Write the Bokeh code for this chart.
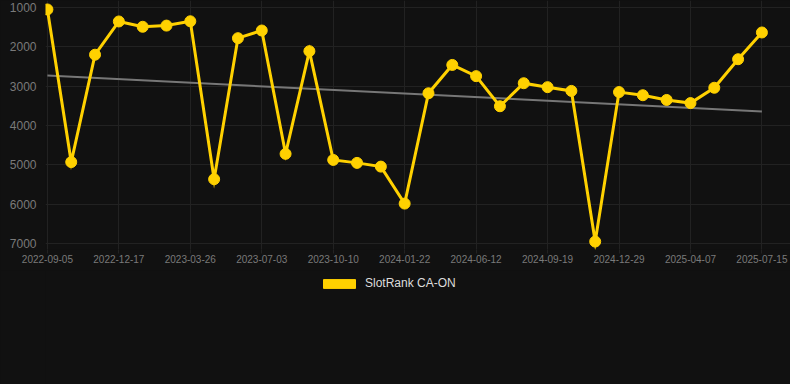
from bokeh.plotting import figure
from bokeh.layouts import column
from bokeh.models import Range1d, FixedTicker, Legend, LegendItem, ColumnDataSource
from bokeh.embed import file_html
from bokeh.resources import INLINE

# ---- data ----
dates = ["2022-09-05", "2022-12-17", "2023-03-26", "2023-07-03", "2023-10-10",
         "2024-01-22", "2024-06-12", "2024-09-19", "2024-12-29", "2025-04-07", "2025-07-15"]
ranks = [1050, 4930, 2200, 1355, 1490, 1460, 1350, 5365, 1780, 1585,
         4720, 2110, 4875, 4950, 5045, 5985, 3180, 2460, 2745, 3510,
         2925, 3025, 3120, 6950, 3150, 3230, 3350, 3430, 3040, 2315, 1635]
trend_values = [2730, 3645]
y_ticks = [1000, 2000, 3000, 4000, 5000, 6000, 7000]
series_name = "SlotRank CA-ON"

idx = list(range(len(ranks)))
label_positions = list(range(0, len(ranks), 3))
trend_x = [idx[0], idx[-1]]

BG = "#111111"
GRID = "#222222"
GOLD = "#FFD100"

p = figure(width=790, height=270, output_backend="svg", toolbar_location=None,
           x_range=Range1d(-0.08, 31.2), y_range=Range1d(7152, 822),
           background_fill_color=BG, border_fill_color=BG,
           min_border_left=45, min_border_right=0, min_border_top=0, min_border_bottom=21)
p.outline_line_color = None

# axes
p.xaxis.ticker = FixedTicker(ticks=label_positions)
p.xaxis.major_label_overrides = {pos: d for pos, d in zip(label_positions, dates)}
p.yaxis.ticker = FixedTicker(ticks=y_ticks)
p.xaxis.axis_line_color = None
p.yaxis.axis_line_color = None
p.xaxis.minor_tick_line_color = None
p.yaxis.minor_tick_line_color = None
p.xaxis.major_label_text_font = "Liberation Sans"
p.yaxis.major_label_text_font = "Liberation Sans"
p.xaxis.major_label_text_color = "#7a7a7a"
p.yaxis.major_label_text_color = "#7a7a7a"
p.yaxis.major_tick_line_color = None
p.yaxis.major_tick_out = 0
p.yaxis.major_tick_in = 0
p.yaxis.major_label_text_font_size = "12px"
p.yaxis.major_label_standoff = 9
p.xaxis.major_tick_line_color = GRID
p.xaxis.major_tick_out = 4
p.xaxis.major_tick_in = 0
p.xaxis.major_label_standoff = 1
p.xaxis.major_label_text_font_size = "10px"

p.xgrid.ticker = FixedTicker(ticks=label_positions)
p.xgrid.grid_line_color = GRID
p.ygrid.grid_line_color = GRID

# trend
p.line(trend_x, trend_values, line_color="#777777", line_width=2)

# series
src = ColumnDataSource(dict(x=idx, y=ranks))
p.line("x", "y", source=src, line_color=GOLD, line_width=3, line_join="miter")
p.scatter("x", "y", source=src, size=11, fill_color=GOLD, line_color=GOLD)

# legend strip below the chart (swatch renderer kept outside the visible range)
p2 = figure(width=790, height=114, output_backend="svg", toolbar_location=None,
            x_range=Range1d(0, 1), y_range=Range1d(0, 1),
            background_fill_color=BG, border_fill_color=BG,
            min_border_left=0, min_border_right=0, min_border_top=0, min_border_bottom=0)
p2.outline_line_color = None
p2.axis.visible = False
p2.grid.visible = False
swatch = p2.quad(left=[5], right=[6], top=[6], bottom=[5], fill_color=GOLD, line_color=GOLD)
legend = Legend(items=[LegendItem(label=series_name, renderers=[swatch])],
                location=(274, 94), orientation="horizontal",
                glyph_width=40, glyph_height=11, label_standoff=6,
                label_height=11,
                label_text_font="Liberation Sans", label_text_font_size="12px",
                label_text_color="#dddddd", background_fill_alpha=0,
                border_line_color=None, margin=0, padding=0)
p2.add_layout(legend, "center")

layout = column(p, p2, spacing=0)
layout.styles = {"position": "fixed", "left": "0px", "top": "0px", "background-color": BG}

open("out.html", "w").write(file_html(layout, INLINE))
